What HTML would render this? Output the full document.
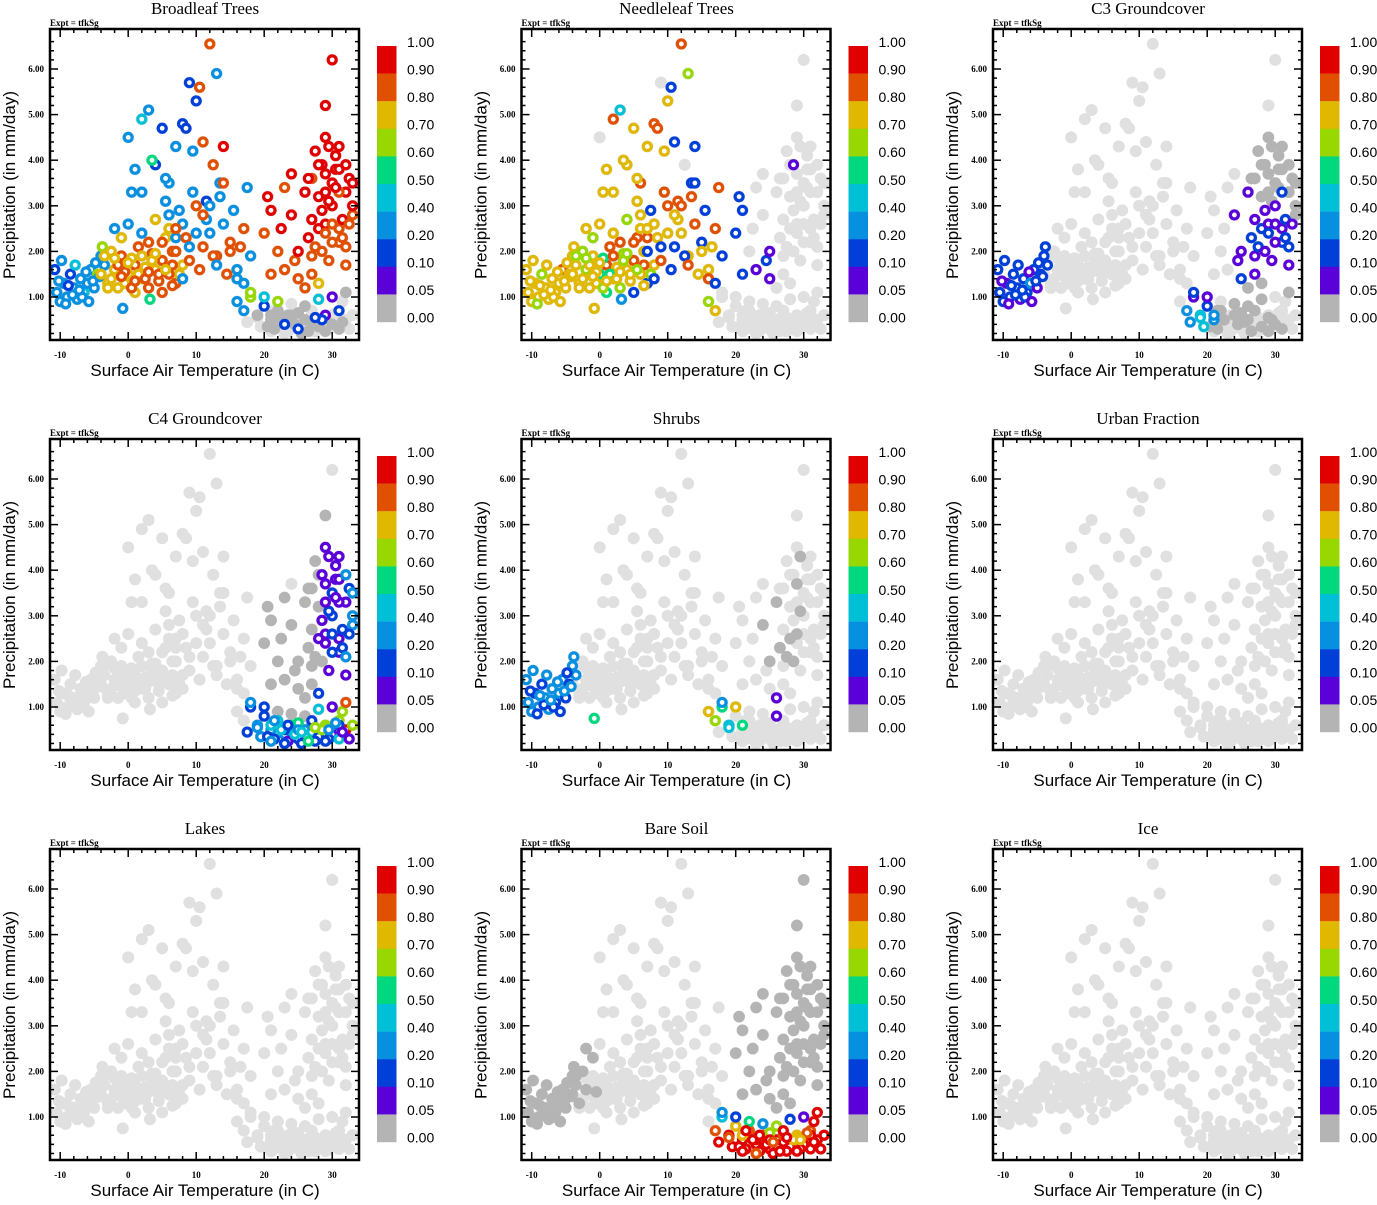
<!DOCTYPE html>
<html><head><meta charset="utf-8"><style>
body{margin:0;background:#fff;}
svg text{font-family:"Liberation Sans",sans-serif;}
.serif{font-family:"Liberation Serif",serif;}
</style></head><body>
<svg id="fig" width="1377" height="1200" xmlns="http://www.w3.org/2000/svg"></svg>
<script>
// ---- shared point coordinates (temperature C, precipitation mm/day), grouped by region A..F, G1..G3 ----
const temps = [
-10.5,-10,-9.5,-9,-8.5,-8,-7.5,-7,-6.5,-6,-5.5,-5,-4.5,-4,-3.5,-10.8,-9.8,-9.2,-8.2,-7.8,-6.8,-6.2,-5.2,-4.8,-3.8,-10.2,-8.8,-7.2,-5.8,-4.2,
-3,-2,-1,0,1,2,3,4,5,6,7,8,-2.5,-1.5,-0.5,0.5,1.5,2.5,3.5,4.5,5.5,6.5,7.5,-2,-1,0,1,2,3,4,5,6,7,-0.8,3.2,
0,1,2,3,4,5,6,7,8,9,10,11,12,13,14,0.5,3.5,5.5,8.5,9.5,10.5,11.5,12.5,2,13.5,
5,6,7,8,9,10,11,12,13,14,15,16,17,18,5.5,6.5,7.5,8.5,9.5,10.5,11.5,12.5,13.5,14.5,15.5,16.5,17.5,6,8,10,12,14,16,7,9,11,13,15,17,
16,17,18,19,20,21,22,23,24,25,26,27,28,29,30,31,32,17.5,19.5,21.5,23.5,25.5,27.5,29.5,31.5,18,20,22,24,26,28,30,32,19,21,23,25,27,29,31,
20,21,22,23,24,25,26,27,28,29,30,31,32,33,20.5,22.5,24.5,26.5,28.5,30.5,32.5,21,23,25,27,29,31,33,26,27,28,29,30,31,32,27.5,28.5,29.5,30.5,31.5,24,29,30,
26.5,27,27.5,28,28.5,29,29.5,30,30.5,31,31.5,32,32.5,33,28,29,30,31,32,29.5,
-4,-3.5,-2.5,-1.5,-0.5,0.5,1.5,2.5,3.5,4.5,5.5,6.5,-3,-2,-1,0,1,2,3,4,
20.5,21,22.5,23,24.5,25,26.5,27,28.5,29,30.5,31,32.5,21.5,23.5,25.5,27.5,29.5,31.5,33
];
const precips = [
1.1,0.9,1.3,1.0,1.5,1.2,0.95,1.4,1.1,1.3,1.6,1.2,1.5,1.9,1.7,1.6,1.8,0.85,1.05,1.7,1.0,1.55,1.35,1.75,2.1,1.35,1.25,1.15,0.9,1.45,
1.3,1.6,1.9,1.5,1.7,1.4,1.2,1.6,1.8,1.5,1.3,1.7,2.0,1.2,1.55,1.85,2.1,1.65,1.95,1.35,2.3,2.0,1.5,2.5,2.3,2.6,1.1,2.4,2.2,2.7,1.1,2.5,2.3,0.75,0.95,
4.5,3.8,3.3,5.1,3.9,4.7,3.5,4.3,4.8,5.7,5.3,4.4,6.55,5.9,4.3,3.3,4.0,3.6,4.7,4.2,5.6,3.1,3.9,4.9,3.5,
2.2,2.8,2.0,2.6,1.8,2.4,2.1,3.0,1.9,2.6,2.2,1.6,2.5,1.9,3.1,1.7,2.9,2.3,3.3,1.6,2.7,1.9,3.2,1.5,2.9,2.1,3.4,1.5,1.4,3.0,2.4,3.5,1.4,2.5,2.1,2.8,1.7,2.0,1.3,
0.9,0.7,1.0,0.6,0.8,0.5,0.7,0.4,0.6,0.3,0.5,0.45,0.35,0.6,0.4,0.7,0.5,0.45,0.35,0.3,0.25,0.2,0.25,0.3,0.9,1.1,1.0,0.9,0.85,0.8,0.95,1.0,1.1,0.55,0.6,0.5,0.65,0.6,0.55,0.6,
2.4,1.5,2.0,1.6,2.8,1.4,3.3,1.9,2.5,3.7,3.0,2.2,3.3,2.8,3.2,2.5,1.8,2.3,3.9,4.1,3.6,2.9,3.4,2.0,3.6,2.6,3.3,3.0,1.2,1.5,1.3,4.5,3.5,2.5,1.7,2.1,2.9,3.1,3.8,2.7,3.7,5.2,6.2,
3.6,2.7,4.2,3.2,2.0,2.4,4.3,2.2,3.4,3.8,2.3,3.9,2.6,3.5,3.9,3.3,2.6,4.3,2.1,1.8,
1.5,1.9,1.4,1.7,1.3,1.2,1.5,1.4,1.8,1.5,1.6,1.25,1.2,1.85,1.45,1.75,1.35,1.9,1.55,1.95,
0.35,0.25,0.5,0.2,0.4,0.5,0.25,0.7,0.5,0.25,0.65,0.3,0.3,0.7,0.6,0.45,0.55,0.5,0.45,0.6
];
// ---- per-panel class values (0=0.00 ... 9=0.90-1.00, '.'=no value) ----
const broadleafVals = "333323334333633"+"2333433336"+"32333"+"778787878787"+"77878788787"+"3737387873"+"35"+"333322332228839"+"3532382843"+"83838383838383"+"3838383838383"+"838383838383"+"3360200202000102."+"..0.0..."+"646.0410"+".0.0.0."+"88889898999898"+"9989999"+"9898989"+"8879988"+"89999"+"999"
  +"99998898998989998988"+"77787878787877878787"+"0.0.0.0.20.0..0.2.0.";
const needleleafVals = "777767777787777"+"7767777777"+"77777"+"767587678727"+"67758767876"+"767578627873"+".77477878.72862"+"7778728.82"+"87278728782782"+"7827827287278"+"728728727872"+"67"+".".repeat(38)+"22.1.1........"+"2.2.1.."+"2.1...."+"......."+"....."+"..."
  +".".repeat(20)+"76777657676776777876"+".".repeat(20);
const c3Vals = "221222122321222"+"2212221222"+"12212"+".".repeat(35)+".".repeat(25)+".".repeat(39)+".314230.0.0.0.0.."+"340....."+"21.000.0"+"43.0.0."+"....1211201200"+"..12000"+"..10120"+"0100011"+"21002"+"..."
  +"01001201002010001021"+".".repeat(20)+"0.0.0.00.0.0.0.0.0..";
const c4Vals = ".".repeat(30+35+25+39)+"..232343523426169"+"23212226"+"32000418"+"3425362"+"00000000112113"+"0000112"+"0000113"+"0021211"+"01212"+".0."
  +"00000112112323012131"+".".repeat(20)+"23424352623413246316";
const shrubVals = "332323332332233"+"3322323323"+"23323"+".".repeat(33)+"5."+".".repeat(25+39)+"7654............."+"........"+"37..1..."+"45....."+"....0.0.00...."+"...0..."+"..0.0.."+"1......"+"0.0.."+"..."
  +"....0.0............."+".".repeat(40);
const urbanVals = ".".repeat(272);
const lakeVals = ".".repeat(272);
const bareVals = "0".repeat(30)+"00.........."+"0.0........"+"00.........."+".".repeat(25+39)+".8497989899997989"+"99999999"+"32536219"+"8796879"+"0".repeat(43)
  +"0".repeat(20)+"00.................."+"99989999798999989799";
const iceVals = ".".repeat(272);
const titles = ["Broadleaf Trees","Needleleaf Trees","C3 Groundcover","C4 Groundcover","Shrubs","Urban Fraction","Lakes","Bare Soil","Ice"];
const xTicks = [-10,0,10,20,30];
const yTicks = [1,2,3,4,5,6];
const cbLabels = ["1.00","0.90","0.80","0.70","0.60","0.50","0.40","0.20","0.10","0.05","0.00"];
const cbColors = ["#e00000","#e05000","#e0b800","#98d800","#00d880","#00c0d8","#0890e0","#0040d8","#5a00d8","#b4b4b4"];
const classColor = {"1":"#5a00d8","2":"#0040d8","3":"#0890e0","4":"#00c0d8","5":"#00d880","6":"#98d800","7":"#e0b800","8":"#e05000","9":"#e00000"};

const NS="http://www.w3.org/2000/svg";
const svg=document.getElementById('fig');
function mk(tag,attrs,parent){const e=document.createElementNS(NS,tag);for(const k in attrs)e.setAttribute(k,attrs[k]);(parent||svg).appendChild(e);return e;}
const xs=t=>50+(t+11.5)*6.8;
const ys=p=>297-(p-1)*45.6;

const allVals=[broadleafVals,needleleafVals,c3Vals,c4Vals,shrubVals,urbanVals,lakeVals,bareVals,iceVals];
allVals.forEach((vals,i)=>{
  const ox=(i%3)*471.5, oy=Math.floor(i/3)*410;
  const g=mk('g',{transform:`translate(${ox},${oy})`});
  
  
  const t=mk('text',{x:205,y:14,'text-anchor':'middle','font-size':17,class:'serif'},g);
  t.textContent=titles[i];
  
  
  const ex=mk('text',{x:50,y:26,'font-size':9,'font-weight':'bold',class:'serif'},g);
  ex.textContent="Expt = tfkSg";
  
  
  const pg=mk('g',{},g);
  
  
  for(let k=0;k<temps.length;k++){
    const c=mk('circle',{cx:xs(temps[k]),cy:ys(precips[k]),r:6,fill:'#e0e0e0'},pg);
    
    
  }
  for(let k=0;k<temps.length;k++){
    if(vals[k]==='0'){
      const c=mk('circle',{cx:xs(temps[k]),cy:ys(precips[k]),r:5.8,fill:'#b4b4b4'},pg);
      
      
    }
  }
  for(let k=0;k<temps.length;k++){
    const v=vals[k];
    if(classColor[v]){
      const c=mk('circle',{cx:xs(temps[k]),cy:ys(precips[k]),r:4,fill:'#fff',stroke:classColor[v],'stroke-width':3.2},pg);
      
      
    }
  }
  const fr=mk('rect',{x:50,y:29,width:309,height:311,fill:'none',stroke:'#000','stroke-width':2.5},g);
  
  
  for(let tt=-10;tt<=32;tt+=2){
    const major=tt%10===0, L=major?8:4, x=xs(tt);
    mk('line',{x1:x,y1:340,x2:x,y2:340-L,stroke:'#000','stroke-width':1.5},g);
    mk('line',{x1:x,y1:29,x2:x,y2:29+L,stroke:'#000','stroke-width':1.5},g);
  }
  for(let p=0.2;p<=6.8;p+=0.2){
    const major=Math.abs(p-Math.round(p))<0.01, L=major?8:4, y=ys(p);
    mk('line',{x1:50,y1:y,x2:50+L,y2:y,stroke:'#000','stroke-width':1.5},g);
    mk('line',{x1:359,y1:y,x2:359-L,y2:y,stroke:'#000','stroke-width':1.5},g);
  }
  xTicks.forEach(v=>{const e=mk('text',{x:xs(v),y:358,'text-anchor':'middle','font-size':9,'font-weight':'bold',class:'serif'},g);e.textContent=v;
    });
  yTicks.forEach(v=>{const e=mk('text',{x:44,y:ys(v)+3,'text-anchor':'end','font-size':9,'font-weight':'bold',class:'serif'},g);e.textContent=v.toFixed(2);
    });
  const xl=mk('text',{x:205,y:376,'text-anchor':'middle','font-size':17},g);
  xl.textContent="Surface Air Temperature (in C)";
  
  
  const yl=mk('text',{x:0,y:0,'text-anchor':'middle','font-size':17,transform:'translate(15,185) rotate(-90)'},g);
  yl.textContent="Precipitation (in mm/day)";
  
  
  const cb=mk('g',{},g);
  
  
  cbColors.forEach((col,j)=>{const r=mk('rect',{x:377,y:46+j*27.6,width:19.5,height:27.8,fill:col},cb);
    });
  cbLabels.forEach((lab,j)=>{const e=mk('text',{x:407,y:47+j*27.55,'font-size':14},cb);e.textContent=lab;
    });
});
</script>
</body></html>
